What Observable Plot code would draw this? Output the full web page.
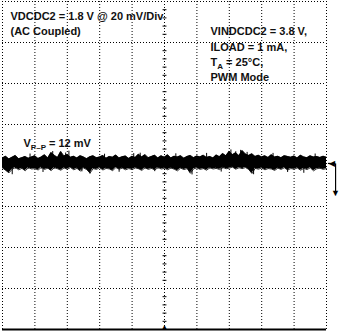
<!DOCTYPE html>
<html><head><meta charset="utf-8">
<script src="https://cdn.jsdelivr.net/npm/d3@7"></script>
<script src="https://cdn.jsdelivr.net/npm/@observablehq/plot@0.6"></script>
<style>html,body{margin:0;padding:0;background:#fff;overflow:hidden;}</style>
</head><body><div id="chart"></div>
<script>
// Oscilloscope grid: 10 horizontal divisions, 8 vertical divisions at 20 mV/div
const timeDivisions = [0,1,2,3,4,5,6,7,8,9,10];
const voltLines = [-80,-60,-40,-20,0,20,40,60,80];
const minorTimes = [0.2,0.4,0.6,0.8,1.2,1.4,1.6,1.8,2.2,2.4,2.6,2.8,3.2,3.4,3.6,3.8,4.2,4.4,4.6,4.8,5.2,5.4,5.6,5.8,6.2,6.4,6.6,6.8,7.2,7.4,7.6,7.8,8.2,8.4,8.6,8.8,9.2,9.4,9.6,9.8];
const minorVolts = [-76,-72,-68,-64,-56,-52,-48,-44,-36,-32,-28,-24,-16,-12,-8,-4,4,8,12,16,24,28,32,36,44,48,52,56,64,68,72,76];

// Ripple trace envelope (mV), one sample every 0.1 div
const noiseHigh = [
3.6,4.5,3.2,4.0,4.9,3.3,3.8,4.4,3.5,4.2,
4.7,3.4,4.1,5.2,3.7,6.3,5.0,3.9,6.8,4.6,
5.4,4.0,4.5,3.6,4.8,4.2,3.3,4.3,4.7,3.8,
4.1,4.9,3.5,4.4,4.0,5.1,3.7,4.3,4.6,3.4,
4.5,3.9,5.5,4.2,5.3,3.8,4.4,5.0,3.6,4.7,
4.0,5.2,3.7,4.5,4.1,4.8,3.5,4.4,4.9,3.8,
4.6,4.2,5.0,3.9,4.4,3.7,5.1,4.3,5.8,4.7,
6.9,5.2,6.2,4.8,7.3,5.6,4.9,5.7,4.4,5.0,
4.2,4.7,3.9,5.3,4.1,4.5,3.8,4.8,4.4,4.0,
4.6,3.7,5.0,4.2,3.8,4.7,4.1,4.4,3.9,4.5,
4.0];
const noiseLow = [
-1.2,-2.4,-3.6,-1.8,-1.0,-2.1,-1.4,-2.6,-1.1,-1.7,
-1.5,-2.2,-0.9,-1.9,-1.3,-2.5,-1.1,-1.6,-2.3,-1.2,
-1.8,-1.0,-2.1,-1.4,-2.7,-1.2,-2.0,-3.7,-1.5,-1.9,
-1.1,-2.2,-1.4,-1.7,-2.5,-1.0,-1.8,-1.3,-2.1,-1.5,
-2.0,-1.2,-1.6,-2.4,-1.1,-1.9,-1.4,-2.2,-1.0,-1.7,
-1.4,-2.1,-1.2,-1.8,-2.6,-1.3,-2.0,-1.5,-3.8,-1.6,
-1.2,-1.9,-1.5,-2.3,-1.1,-1.7,-1.4,-2.0,-0.9,-1.6,
-1.3,-0.8,-1.8,-1.1,-1.5,-1.0,-1.9,-3.9,-1.4,-1.8,
-1.2,-2.1,-1.5,-1.7,-2.4,-1.3,-1.9,-1.1,-2.2,-1.5,
-1.8,-1.2,-2.3,-1.4,-2.0,-1.1,-2.6,-1.6,-1.3,-1.9,
-1.5];
// isolated peaks poking out of the band
const spikeTimes = [0.3,0.85,1.25,1.55,1.95,2.05,2.45,2.7,3.15,3.6,4.05,4.25,4.7,5.35,5.85,6.3,6.75,7.05,7.2,7.35,7.55,7.75,8.35,8.8,9.3,9.65];
const spikeValues = [-4.5,5.6,-3.4,6.8,6.1,7.0,-3.1,-4.2,5.5,-3.3,5.8,6.0,-3.0,5.7,-4.6,5.9,-3.2,7.6,6.7,7.4,6.4,-4.5,5.9,-3.4,-3.8,5.6];
const ch1Level = 1;       // channel-1 ground marker (mV)
const ch1ArrowEnd = -13;  // arrow tip below the marker (mV)

const trace = noiseHigh.map((hi, i) => ({t: i / 10, hi, lo: noiseLow[i]}));
const spikes = spikeTimes.map((t, i) => ({t, v: spikeValues[i]}));

const labels = [
  {text: "VDCDC2 = 1.8 V @ 20 mV/Div", dx: 8, dy: 10.5},
  {text: "(AC Coupled)", dx: 8, dy: 26},
  {text: "VINDCDC2 = 3.8 V,", dx: 208, dy: 26},
  {text: "ILOAD = 1 mA,", dx: 208, dy: 41.5},
  {text: "T_A = 25°C,", dx: 208, dy: 56.5},
  {text: "PWM Mode", dx: 208, dy: 71.5},
  {text: "V_P–P = 12 mV", dx: 21, dy: 137.5}
];

const dotted = {stroke: "black", strokeWidth: 1, strokeDasharray: "1,2"};

const chart = Plot.plot({
  width: 339, height: 334,
  marginLeft: 2, marginRight: 13, marginTop: 1, marginBottom: 5,
  x: {domain: [0, 10], axis: null},
  y: {domain: [-80, 80], axis: null},
  style: {fontFamily: "'Liberation Sans', Arial, sans-serif", background: "white", overflow: "visible"},
  marks: [
    Plot.ruleX(timeDivisions, {x: d => d, ...dotted}),
    Plot.ruleY(voltLines.filter(v => v !== -80), {y: d => d, ...dotted}),
    Plot.link(minorVolts, {x1: 4.94, x2: 5.06, y1: d => d, y2: d => d, stroke: "black", strokeWidth: 1}),
    Plot.link(minorTimes, {x1: d => d, x2: d => d, y1: -1.5, y2: 1.5, stroke: "black", strokeWidth: 1}),
    Plot.ruleY([-80], {stroke: "black", strokeWidth: 2}),
    Plot.areaY(trace, {x: "t", y1: "lo", y2: "hi", fill: "black", curve: "linear"}),
    Plot.line(trace, {x: "t", y: "hi", stroke: "black", strokeWidth: 0.8}),
    Plot.line(trace, {x: "t", y: "lo", stroke: "black", strokeWidth: 0.8}),
    Plot.ruleX(spikes, {x: "t", y1: 1, y2: "v", stroke: "black", strokeWidth: 1}),
    // channel marker on the right
    Plot.ruleY([ch1Level], {x1: 10.06, x2: 10.28, stroke: "black", strokeWidth: 1.2}),
    Plot.link([ch1Level], {x1: 10.28, x2: 10.28, y1: d => d, y2: ch1ArrowEnd, stroke: "black", strokeWidth: 1.2}),
    Plot.text(["◀"], {x: 10, y: ch1Level, dx: 5, fontSize: 8, fill: "black"}),
    Plot.text(["▼"], {x: 10.28, y: ch1ArrowEnd, dy: 1, fontSize: 9, fill: "black"}),
    // trigger marker bottom centre
    Plot.text(["▲"], {x: 5, y: -80, dy: -3, fontSize: 7, fill: "black"}),
    ...labels.map(l => Plot.text([l.text], {
      frameAnchor: "top-left", dx: l.dx, dy: l.dy, textAnchor: "start", lineAnchor: "top",
      fontSize: 11, fontWeight: "bold", fill: "#111"
    }))
  ]
});
document.getElementById("chart").appendChild(chart);

// Render subscripts ("_X" → subscript X)
d3.select(chart).selectAll("text").each(function() {
  const s = this.textContent;
  const m = s.match(/^(.*?)_(\S+)(.*)$/);
  if (!m) return;
  const el = d3.select(this);
  el.text(null);
  el.append("tspan").text(m[1]);
  el.append("tspan").attr("font-size", 8).attr("dy", 3).text(m[2]);
  el.append("tspan").attr("dy", -3).text(m[3]);
});
</script>
</body></html>
